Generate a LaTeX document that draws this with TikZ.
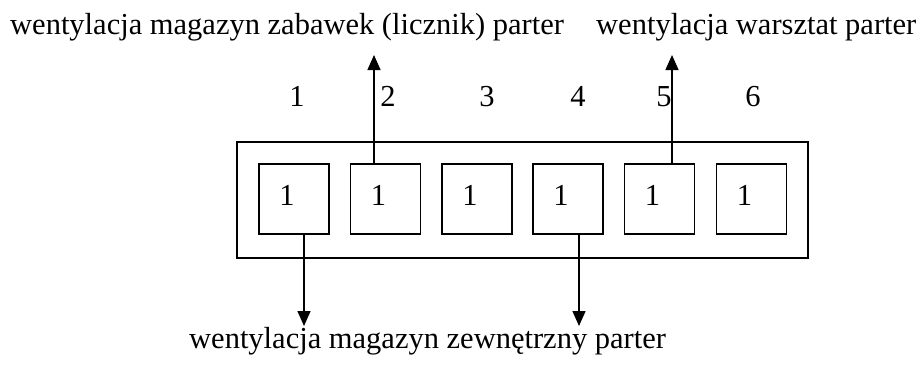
\documentclass[tikz,border=0pt]{standalone}
\usepackage{fontspec}
\setmainfont{Liberation Serif}
\usetikzlibrary{arrows.meta}
\begin{document}
\begin{tikzpicture}[x=1pt,y=-1pt,
  every node/.style={font=\fontsize{30.5}{36}\selectfont, inner sep=0pt},
  cell/.style={draw, line width=1.5pt, minimum width=70pt, minimum height=70pt},
  arr/.style={line width=1.5pt, -{Triangle[length=15pt,width=13pt]}},
  lbl/.style={anchor=base west}]
\useasboundingbox (0,0) rectangle (920,365);
\node[draw, line width=1.5pt, minimum width=571pt, minimum height=116pt] (outer) at (522.5,200) {};
\foreach \i/\x in {1/294,2/385.5,3/477,4/568,5/659.5,6/751.5}{
  \node[cell] (b\i) at (\x,199) {};
  \node[anchor=base] at (\x-7,205) {1};
}
\foreach \i/\x in {1/297,2/388,3/487,4/578,5/664,6/753}{
  \node[anchor=base] (n\i) at (\x,106) {\i};
}
\node[lbl] (t1) at (10,34) {wentylacja magazyn zabawek (licznik) parter};
\node[lbl] (t2) at (596,34) {wentylacja warsztat parter};
\node[lbl] (t3) at (189,348) {wentylacja magazyn zewnętrzny parter};
\coordinate (u2) at (374,55);
\coordinate (u5) at (672,55);
\coordinate (d1) at (304,326);
\coordinate (d4) at (579,326);
\draw[arr] (b2.north -| u2) -- (u2);
\draw[arr] (b5.north -| u5) -- (u5);
\draw[arr] (b1.south -| d1) -- (d1);
\draw[arr] (b4.south -| d4) -- (d4);
\end{tikzpicture}
\end{document}
